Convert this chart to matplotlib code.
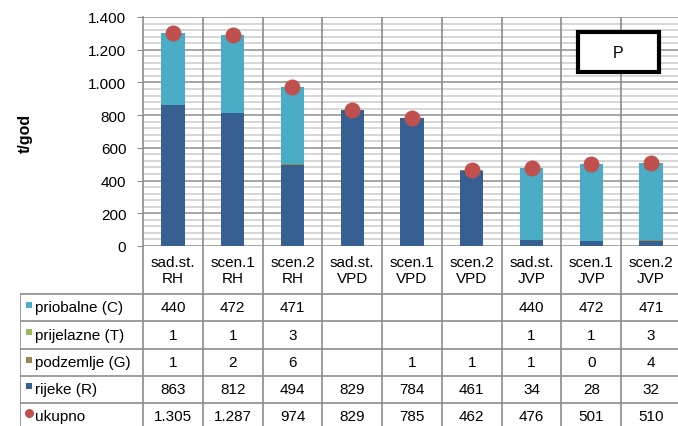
import numpy as np
import matplotlib.pyplot as plt
from matplotlib.patches import Rectangle

plt.rcParams["font.family"] = ["Liberation Sans", "DejaVu Sans"]

# podaci
categories = ["sad.st.\nRH", "scen.1\nRH", "scen.2\nRH",
              "sad.st.\nVPD", "scen.1\nVPD", "scen.2\nVPD",
              "sad.st.\nJVP", "scen.1\nJVP", "scen.2\nJVP"]
priobalne = [440, 472, 471, None, None, None, 440, 472, 471]
prijelazne = [1, 1, 3, None, None, None, 1, 1, 3]
podzemlje = [1, 2, 6, None, 1, 1, 1, 0, 4]
rijeke = [863, 812, 494, 829, 784, 461, 34, 28, 32]
ukupno = [1305, 1287, 974, 829, 785, 462, 476, 501, 510]
ukupno_txt = ["1.305", "1.287", "974", "829", "785", "462", "476", "501", "510"]

c_C = "#4BACC6"
c_T = "#9BBB59"
c_G = "#948A54"
c_R = "#376092"
c_U = "#C0504D"
grid_major = "#A6A6A6"
grid_minor = "#CFCFCF"
vline = "#8C8C8C"
fs = 11

W, H = 678, 427
fig = plt.figure(figsize=(W / 100, H / 100), dpi=100)

# pixel pozicije
x0, x1 = 143, 681
y_top, y_base = 18, 247
t_left, t_bottom = 20, 431

ax = fig.add_axes([x0 / W, (H - y_base) / H, (x1 - x0) / W, (y_base - y_top) / H])

x = np.arange(len(categories))
vals = lambda a: np.array([0 if v is None else v for v in a], dtype=float)
bottom = np.zeros(len(categories))
for series, col in [(rijeke, c_R), (podzemlje, c_G), (prijelazne, c_T), (priobalne, c_C)]:
    v = vals(series)
    ax.bar(x, v, width=0.39, bottom=bottom, color=col, zorder=3)
    bottom += v

ax.plot(x, ukupno, "o", color=c_U, markersize=11.5, markeredgewidth=0, zorder=4)

ax.set_xlim(-0.5, len(categories) - 0.5)
ax.set_ylim(0, 1400)
ax.set_yticks(np.arange(0, 1401, 200))
ax.set_yticklabels([f"{v:,}".replace(",", ".") for v in range(0, 1401, 200)], fontsize=fs)
ax.set_yticks(np.arange(0, 1401, 40), minor=True)
ax.tick_params(axis="y", which="major", length=4, color=vline, pad=8)
ax.tick_params(axis="y", which="minor", length=0)
ax.set_xticks([])
ax.grid(axis="y", which="minor", color=grid_minor, linewidth=1.2, zorder=0)
ax.grid(axis="y", which="major", color=grid_major, linewidth=1.4, zorder=1)
for xb in np.arange(0.5, len(categories) - 0.5, 1):
    ax.axvline(xb, color=vline, linewidth=1.2, zorder=2)
for s in ["top", "right", "bottom"]:
    ax.spines[s].set_visible(False)
ax.spines["left"].set_color(vline)
ax.spines["left"].set_linewidth(1.2)

fig.text(25 / W, 1 - 133 / H, "t/god", rotation=90, ha="center", va="center",
         fontsize=11.5, fontweight="bold")

# okvir "P"
fig.add_artist(Rectangle((578 / W, 1 - 73 / H), 81 / W, 40 / H, transform=fig.transFigure,
                         facecolor="white", edgecolor="black", linewidth=3, zorder=5))
fig.text(618 / W, 1 - 53 / H, "P", ha="center", va="center", fontsize=11.5, zorder=6)

# tablica ispod grafa
cw = (x1 - x0) / len(categories)
lab_w = (x0 - t_left) / cw
tax = fig.add_axes([t_left / W, (H - t_bottom) / H, (x1 - t_left) / W, (t_bottom - y_base) / H])
tax.set_xlim(-0.5 - lab_w, len(categories) - 0.5)
tax.set_ylim(t_bottom, y_base)
tax.axis("off")

row_edges = [295, 322, 350, 377, 404, 431]
lw = 1.2
for xb in np.arange(-0.5, len(categories) - 0.4, 1):
    tax.plot([xb, xb], [y_base, t_bottom], color=vline, linewidth=lw, clip_on=False)
tax.plot([-0.5 - lab_w, -0.5 - lab_w], [row_edges[0], t_bottom], color=vline, linewidth=lw)
for yb in row_edges:
    tax.plot([-0.5 - lab_w, len(categories) - 0.5], [yb, yb], color=vline, linewidth=lw)

for i, c in enumerate(categories):
    tax.text(i, 271, c, ha="center", va="center", fontsize=fs, linespacing=1.2)

rows = [("priobalne (C)", priobalne, c_C, "s"),
        ("prijelazne (T)", prijelazne, c_T, "s"),
        ("podzemlje (G)", podzemlje, c_G, "s"),
        ("rijeke (R)", rijeke, c_R, "s"),
        ("ukupno", ukupno_txt, c_U, "o")]
for r, (name, data, col, mk) in enumerate(rows):
    yc = (row_edges[r] + row_edges[r + 1]) / 2
    tax.plot(-0.5 - lab_w + 9 / cw, yc - 3, mk, color=col,
             markersize=4.5 if mk == "s" else 6.5, markeredgewidth=0, clip_on=False)
    tax.text(-0.5 - lab_w + 15 / cw, yc, name, ha="left", va="center", fontsize=fs)
    for i, v in enumerate(data):
        if v is not None:
            tax.text(i, yc, str(v), ha="center", va="center", fontsize=fs)

fig.savefig("out.png", dpi=100)
